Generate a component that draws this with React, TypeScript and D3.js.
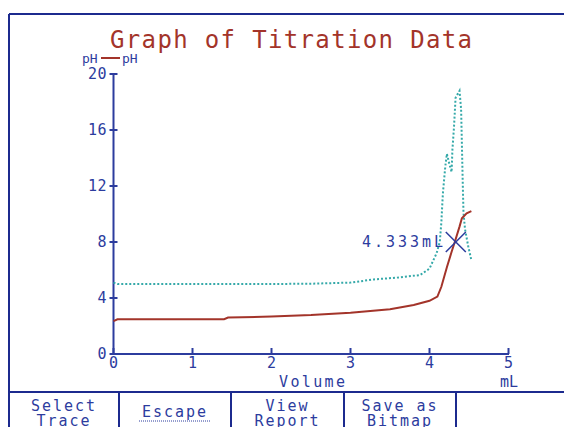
import * as d3 from 'd3';

// Titration data (volume mL, pH)
const redVolume = [0, 0.05, 1.4, 1.45, 2, 2.5, 3, 3.5, 3.8, 4.0, 4.1, 4.15, 4.22, 4.28, 4.32, 4.38, 4.41, 4.47, 4.53];
const redPH = [2.35, 2.48, 2.48, 2.6, 2.68, 2.78, 2.95, 3.2, 3.5, 3.8, 4.1, 4.8, 6.2, 7.3, 8.0, 9.1, 9.7, 10.05, 10.2];

const tealVolume = [0, 0.05, 0.5, 1, 1.5, 2, 2.5, 3, 3.3, 3.58, 3.88, 4.0, 4.09, 4.13, 4.15, 4.16, 4.17, 4.2, 4.22, 4.25, 4.28, 4.29, 4.31, 4.33, 4.36, 4.38, 4.4, 4.41, 4.42, 4.43, 4.45, 4.49, 4.53];
const tealPH = [5.1, 5.0, 5.0, 5.0, 5.0, 5.0, 5.02, 5.1, 5.33, 5.45, 5.64, 6.1, 7.2, 8.0, 9.4, 10.5, 11.5, 13.4, 14.3, 13.6, 13.0, 14.6, 16.2, 18.3, 18.6, 18.8, 17.5, 15.0, 12.4, 10.1, 8.9, 7.7, 6.7];

const xTicks = [0, 1, 2, 3, 4, 5];
const yTicks = [0, 4, 8, 12, 16, 20];
const buttonLabels = [['Select', 'Trace'], ['Escape'], ['View', 'Report'], ['Save as', 'Bitmap']];
const markerVolume = 4.333;
const markerPH = 8.0;

const BLUE = '#2c3c9e';
const FRAME = '#1c2a8e';
const RED = '#a3342a';
const TEAL = '#35a9a9';
const FONT = '"DejaVu Sans Mono", monospace';

export default function App() {
  const x = d3.scaleLinear().domain([0, 5]).range([113.5, 508.5]);
  const y = d3.scaleLinear().domain([0, 20]).range([354, 74]);

  const redLine = d3.line<number>()
    .x((_, i) => x(redVolume[i]))
    .y((d) => y(d));
  const tealLine = d3.line<number>()
    .x((_, i) => x(tealVolume[i]))
    .y((d) => y(d));

  const mx = x(markerVolume);
  const my = y(markerPH);

  const btnDividers = [9, 119, 231, 344, 456];

  return (
    <svg width={564} height={427} style={{ position: 'absolute', left: 0, top: 0, background: '#fff' }}>
      {/* frame */}
      <line x1={9} y1={14} x2={564} y2={14} stroke={FRAME} strokeWidth={2} />
      <line x1={9} y1={14} x2={9} y2={427} stroke={FRAME} strokeWidth={2} />
      <line x1={9} y1={392} x2={564} y2={392} stroke={FRAME} strokeWidth={2} />
      {btnDividers.slice(1).map((bx) => (
        <line key={bx} x1={bx} y1={392} x2={bx} y2={427} stroke={FRAME} strokeWidth={2} />
      ))}

      {/* title */}
      <text x={110} y={48} fill={RED} fontFamily={FONT} fontSize={24} textLength={362} lengthAdjust="spacing">
        Graph of Titration Data
      </text>

      {/* legend */}
      <text x={82} y={63} fill={BLUE} fontFamily={FONT} fontSize={13}>pH</text>
      <line x1={101} y1={58} x2={120} y2={58} stroke={RED} strokeWidth={2} />
      <text x={122} y={63} fill={BLUE} fontFamily={FONT} fontSize={13}>pH</text>

      {/* y axis */}
      <line x1={x(0)} y1={y(20)} x2={x(0)} y2={y(0)} stroke={BLUE} strokeWidth={2} />
      {yTicks.map((t) => (
        <g key={t}>
          <line x1={x(0) - 4} x2={x(0) + 4} y1={y(t)} y2={y(t)} stroke={BLUE} strokeWidth={2} />
          <text x={107} y={y(t) + 5} textAnchor="end" fill={BLUE} fontFamily={FONT} fontSize={15} letterSpacing={0.5}>
            {t}
          </text>
        </g>
      ))}

      {/* x axis */}
      <line x1={x(0)} y1={y(0)} x2={509} y2={y(0)} stroke={BLUE} strokeWidth={2} />
      {xTicks.map((t) => (
        <g key={t}>
          <line x1={x(t)} x2={x(t)} y1={y(0) - 6} y2={y(0)} stroke={BLUE} strokeWidth={2} />
          <text x={x(t)} y={y(0) + 14} textAnchor="middle" fill={BLUE} fontFamily={FONT} fontSize={15}>
            {t}
          </text>
        </g>
      ))}
      <text x={312} y={387} textAnchor="middle" fill={BLUE} fontFamily={FONT} fontSize={15} textLength={66} lengthAdjust="spacing">
        Volume
      </text>
      <text x={509} y={387} textAnchor="middle" fill={BLUE} fontFamily={FONT} fontSize={15}>mL</text>

      {/* series */}
      <path d={tealLine(tealPH) ?? ''} fill="none" stroke={TEAL} strokeWidth={2} strokeDasharray="2,2" />
      <path d={redLine(redPH) ?? ''} fill="none" stroke={RED} strokeWidth={2} />

      {/* marker */}
      <line x1={mx - 10} y1={my - 10} x2={mx + 10} y2={my + 10} stroke={BLUE} strokeWidth={1.5} />
      <line x1={mx - 10} y1={my + 10} x2={mx + 10} y2={my - 10} stroke={BLUE} strokeWidth={1.5} />
      <text x={443} y={my + 5} textAnchor="end" fill={BLUE} fontFamily={FONT} fontSize={15} textLength={81} lengthAdjust="spacing">
        4.333mL
      </text>

      {/* buttons */}
      {buttonLabels.map((lines, i) => {
        const cx = (btnDividers[i] + btnDividers[i + 1]) / 2;
        if (lines.length === 1) {
          return (
            <g key={i}>
              <text x={cx} y={417} textAnchor="middle" fill={BLUE} fontFamily={FONT} fontSize={15} letterSpacing={2}>
                {lines[0]}
              </text>
              <line x1={cx - 36} x2={cx + 36} y1={421} y2={421} stroke={BLUE} strokeWidth={1} strokeDasharray="1,1" />
            </g>
          );
        }
        return (
          <g key={i}>
            {lines.map((l, j) => (
              <text key={j} x={cx} y={411 + j * 15} textAnchor="middle" fill={BLUE} fontFamily={FONT} fontSize={15} letterSpacing={2}>
                {l}
              </text>
            ))}
          </g>
        );
      })}
    </svg>
  );
}
